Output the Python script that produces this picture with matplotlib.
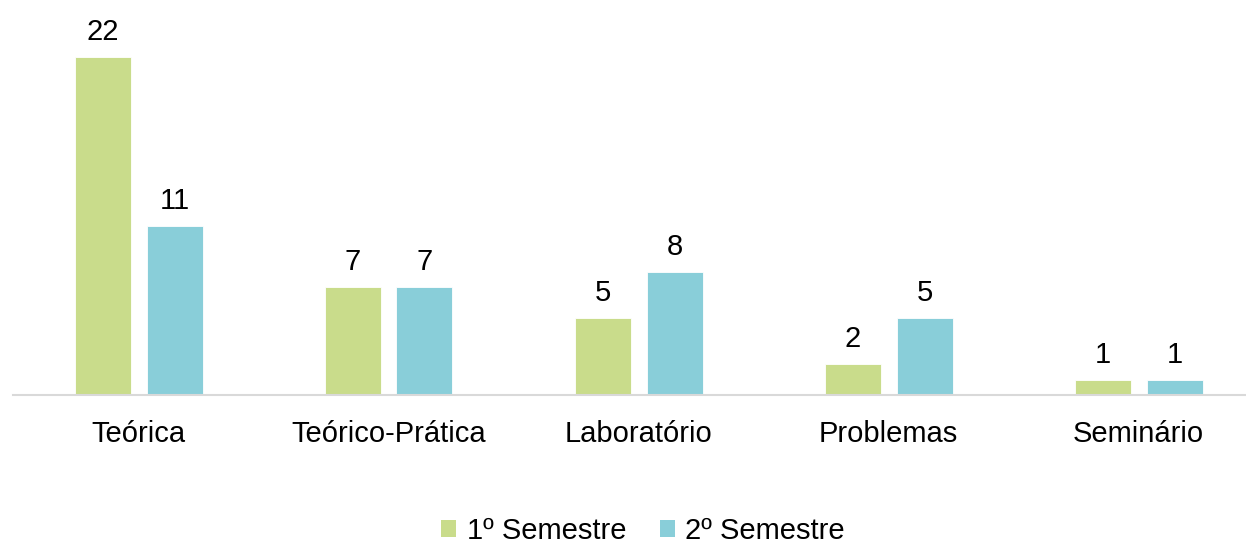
import matplotlib
matplotlib.use("Agg")
import matplotlib.pyplot as plt
from matplotlib.patches import Patch
import numpy as np

categories = ["Teórica", "Teórico-Prática", "Laboratório", "Problemas", "Seminário"]
sem1 = [22, 7, 5, 2, 1]
sem2 = [11, 7, 8, 5, 1]
series_names = ["1º Semestre", "2º Semestre"]
colors = ["#C9DC8B", "#89CED9"]

plt.rcParams['font.family'] = ['Liberation Sans', 'DejaVu Sans']

W, H = 1246, 545
fig = plt.figure(figsize=(W/100, H/100), dpi=100)
ax = fig.add_axes([13/W, 1-395/H, (W-13)/W, 395/H])

x = np.arange(len(categories))
bw = 56/250
off = 36/250
b1 = ax.bar(x - off, sem1, bw, color=colors[0], edgecolor='white', linewidth=0.6)
b2 = ax.bar(x + off, sem2, bw, color=colors[1], edgecolor='white', linewidth=0.6)

for bars, vals in ((b1, sem1), (b2, sem2)):
    for r, v in zip(bars, vals):
        ax.annotate(str(v), (r.get_x() + r.get_width()/2, v), xytext=(0, 8),
                    textcoords='offset points', ha='center', va='bottom', fontsize=21)

ax.set_xlim((13-138.5)/250, (1246-138.5)/250)
ax.set_ylim(0, 395/15.36)
ax.set_xticks(x)
ax.set_xticklabels(categories, fontsize=21)
ax.tick_params(axis='x', length=0, pad=18)
ax.set_yticks([])
for s in ['top', 'right', 'left']:
    ax.spines[s].set_visible(False)
ax.spines['bottom'].set_color('#D9D9D9')
ax.spines['bottom'].set_linewidth(1.5)

handles = [Patch(facecolor=c, edgecolor='none') for c in colors]
fig.legend(handles, series_names, loc='center', bbox_to_anchor=(643/W, 1-531/H),
           ncol=2, frameon=False, fontsize=21, handlelength=0.52, handleheight=0.52,
           handletextpad=0.35, columnspacing=1.15)

fig.savefig("out.png", dpi=100)
